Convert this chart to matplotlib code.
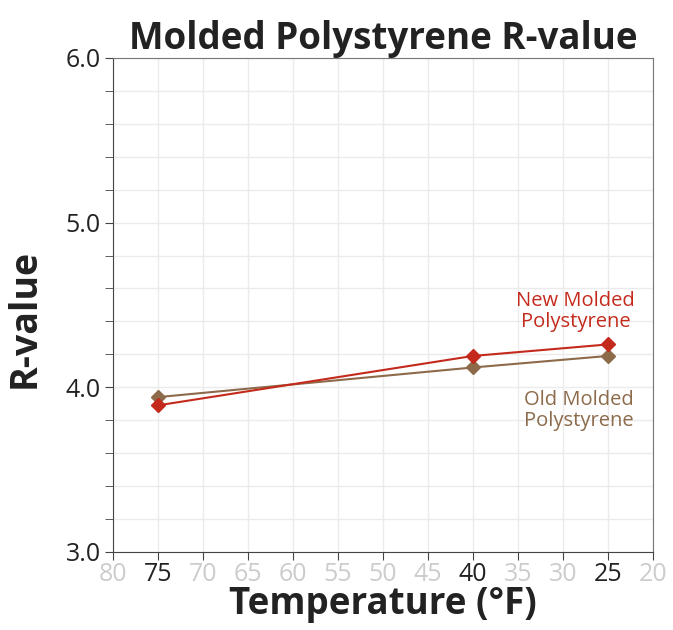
import matplotlib.pyplot as plt
from matplotlib.ticker import MultipleLocator

temps = [75, 40, 25]
new_r = [3.89, 4.19, 4.26]
old_r = [3.94, 4.12, 4.19]
x_ticks = list(range(80, 15, -5))
y_ticks = [3.0, 4.0, 5.0, 6.0]

red = "#c42a1c"
brown = "#8c6a4a"

plt.rcParams["font.family"] = ["Open Sans", "DejaVu Sans"]

fig, ax = plt.subplots(figsize=(6.73, 6.3), dpi=100)
fig.subplots_adjust(left=0.168, right=0.97, top=0.908, bottom=0.124)

ax.plot(temps, old_r, color=brown, marker="D", markersize=7, lw=1.5, zorder=3)
ax.plot(temps, new_r, color=red, marker="D", markersize=7, lw=1.5, zorder=4)

ax.set_xlim(80, 20)
ax.set_ylim(3.0, 6.0)
ax.set_xticks(x_ticks)
ax.set_xticklabels([str(t) for t in x_ticks])
ax.set_yticks(y_ticks)
ax.set_yticklabels(["%.1f" % v for v in y_ticks])
ax.yaxis.set_minor_locator(MultipleLocator(0.2))

ax.grid(True, which="both", color="#ebebeb", lw=1)
ax.set_axisbelow(True)
ax.tick_params(axis="both", which="major", labelsize=18, length=6, color="#444444")
ax.tick_params(axis="y", which="minor", length=6, color="#444444")
ax.tick_params(axis="y", labelcolor="#222222", pad=3)
ax.tick_params(axis="x", pad=1)
for lab, t in zip(ax.get_xticklabels(), x_ticks):
    lab.set_color("#222222" if t in temps else "#cccccc")

for s in ["top", "right"]:
    ax.spines[s].set_color("#777777")
for s in ["left", "bottom"]:
    ax.spines[s].set_color("#444444")

ax.text(28.6, 4.46, "New Molded\nPolystyrene", color=red, fontsize=14.5, ha="center", va="center", linespacing=1.1)
ax.text(28.2, 3.86, "Old Molded\nPolystyrene", color=brown, fontsize=14.5, ha="center", va="center", linespacing=1.1)

ax.set_title("Molded Polystyrene R-value", fontsize=26.5, fontweight="bold", color="#222222", pad=6)
ax.set_xlabel("Temperature (°F)", fontsize=26.5, fontweight="bold", color="#222222", labelpad=-1)
ax.set_ylabel("R-value", fontsize=27, fontweight="bold", color="#222222")
ax.yaxis.set_label_coords(-0.128, 0.472)

fig.savefig("out.png")
